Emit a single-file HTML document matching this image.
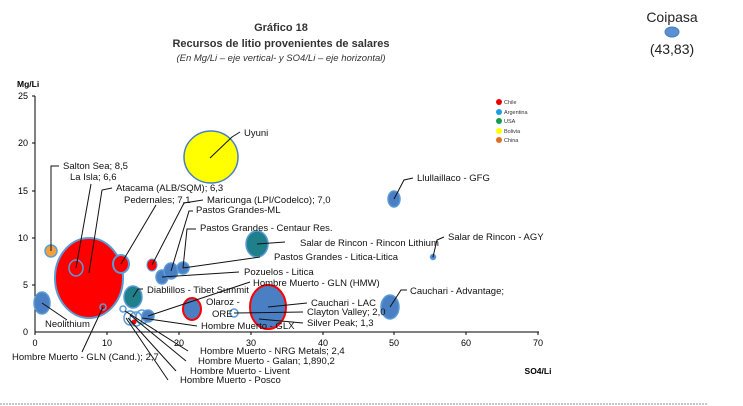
<!DOCTYPE html>
<html><head><meta charset="utf-8"><style>
body{margin:0;background:#fff;}
svg{display:block;font-family:"Liberation Sans",Arial,sans-serif;}
.l{font-size:9.5px;fill:#111;}
.ln{stroke:#111;stroke-width:1;fill:none;}
.b{fill:#4a7fc4;stroke:#5b9bd5;stroke-width:1.5;}
.r{fill:none;stroke:#5b9bd5;stroke-width:1.5;}
.t{fill:#1f7f8a;stroke:#5b9bd5;stroke-width:1.5;}
</style></head><body>
<svg width="743" height="406" viewBox="0 0 743 406">
<text x="281" y="31" text-anchor="middle" font-size="11" font-weight="bold" fill="#333">Gráfico 18</text>
<text x="281" y="47" text-anchor="middle" font-size="11" font-weight="bold" fill="#333">Recursos de litio provenientes de salares</text>
<text x="281" y="61" text-anchor="middle" font-size="9.5" font-style="italic" fill="#333">(En Mg/Li – eje vertical- y SO4/Li – eje horizontal)</text>
<text x="672" y="22" text-anchor="middle" font-size="14" fill="#222">Coipasa</text>
<ellipse cx="672" cy="32" rx="7" ry="5" fill="#5b8fd0" stroke="#4a7fc4"/>
<text x="672" y="54" text-anchor="middle" font-size="14" fill="#222">(43,83)</text>
<text x="17" y="87" font-size="8.5" font-weight="bold">Mg/Li</text>
<g font-size="9" text-anchor="end">
<text x="28" y="99">25</text><text x="28" y="146">20</text><text x="28" y="194">15</text>
<text x="28" y="241">10</text><text x="28" y="288">5</text><text x="28" y="335">0</text>
</g>
<line x1="35" y1="96" x2="35" y2="332" stroke="#000"/>
<line x1="35" y1="332" x2="539" y2="332" stroke="#000"/>
<g stroke="#000">
<line x1="32" y1="96" x2="35" y2="96"/><line x1="32" y1="143" x2="35" y2="143"/><line x1="32" y1="191" x2="35" y2="191"/><line x1="32" y1="238" x2="35" y2="238"/><line x1="32" y1="285" x2="35" y2="285"/>
<line x1="35" y1="332" x2="35" y2="335"/><line x1="107" y1="332" x2="107" y2="335"/><line x1="179" y1="332" x2="179" y2="335"/><line x1="251" y1="332" x2="251" y2="335"/><line x1="323" y1="332" x2="323" y2="335"/><line x1="394" y1="332" x2="394" y2="335"/><line x1="466" y1="332" x2="466" y2="335"/><line x1="538" y1="332" x2="538" y2="335"/>
</g>
<g font-size="9" text-anchor="middle">
<text x="35" y="346">0</text><text x="107" y="346">10</text><text x="179" y="346">20</text><text x="251" y="346">30</text><text x="323" y="346">40</text><text x="394" y="346">50</text><text x="466" y="346">60</text><text x="538" y="346">70</text>
</g>
<text x="538" y="374" font-size="8.5" font-weight="bold" text-anchor="middle">SO4/Li</text>
<!-- legend -->
<g font-size="5.5" fill="#333">
<circle cx="499" cy="102" r="3" fill="#e00"/><text x="504" y="104">Chile</text>
<circle cx="499" cy="112" r="3" fill="#1aa0e0"/><text x="504" y="114">Argentina</text>
<circle cx="499" cy="121" r="3" fill="#1a9a50"/><text x="504" y="123">USA</text>
<circle cx="499" cy="131" r="3" fill="#ff0"/><text x="504" y="133">Bolivia</text>
<circle cx="499" cy="140" r="3" fill="#e07020"/><text x="504" y="142">China</text>
</g>
<!-- bubbles -->
<ellipse cx="211" cy="157" rx="27" ry="26" fill="#ffff00" stroke="#4a7fc4" stroke-width="1.5"/>
<ellipse cx="89" cy="278" rx="34" ry="40" fill="#f00" stroke="#5b9bd5" stroke-width="2"/>
<ellipse cx="76" cy="268" rx="7" ry="8" class="r" stroke-width="2"/>
<ellipse cx="121" cy="264" rx="8" ry="9" fill="#f00" stroke="#5b9bd5" stroke-width="2"/>
<ellipse cx="51" cy="251" rx="6" ry="6" fill="#f0a040" stroke="#5b9bd5" stroke-width="1.5"/>
<ellipse cx="42" cy="303" rx="8" ry="11" class="b"/>
<ellipse cx="152" cy="265" rx="5" ry="6" fill="#f00" stroke="#5b9bd5"/>
<ellipse cx="162" cy="277" rx="6" ry="7" class="b"/>
<ellipse cx="171" cy="271" rx="7" ry="8" class="b"/>
<ellipse cx="183" cy="268" rx="6" ry="6" class="b"/>
<ellipse cx="133" cy="297" rx="9" ry="11" class="t"/>
<ellipse cx="192" cy="309" rx="9" ry="11" fill="#4a7fc4" stroke="#f00" stroke-width="2"/>
<ellipse cx="268" cy="307" rx="18" ry="22" fill="#4a7fc4" stroke="#f00" stroke-width="2"/>
<circle cx="234" cy="313" r="4" class="r"/>
<ellipse cx="257" cy="244" rx="11" ry="13" class="t"/>
<ellipse cx="394" cy="199" rx="6" ry="8" class="b"/>
<circle cx="433" cy="257" r="2.5" class="b"/>
<ellipse cx="390" cy="307" rx="9" ry="12" class="b"/>
<circle cx="103" cy="307" r="3" class="r"/>
<circle cx="123" cy="309" r="3" class="r"/>
<ellipse cx="130" cy="318" rx="6" ry="7" class="r"/>
<ellipse cx="136" cy="319" rx="6" ry="7" class="r"/>
<ellipse cx="142" cy="317" rx="6" ry="7" class="r"/>
<ellipse cx="148" cy="316" rx="6" ry="6" class="b"/>
<circle cx="134" cy="322" r="2.5" fill="#f00"/>
<!-- labels -->
<g class="l">
<text x="244" y="136">Uyuni</text>
<text x="63" y="169">Salton Sea; 8,5</text>
<text x="70" y="180">La Isla; 6,6</text>
<text x="116" y="191">Atacama (ALB/SQM); 6,3</text>
<text x="124" y="203">Pedernales; 7,1</text>
<text x="207" y="203">Maricunga (LPI/Codelco); 7,0</text>
<text x="196" y="213">Pastos Grandes-ML</text>
<text x="200" y="231">Pastos Grandes - Centaur Res.</text>
<text x="300" y="246">Salar de Rincon - Rincon Lithium</text>
<text x="448" y="240">Salar de Rincon - AGY</text>
<text x="417" y="181">Llullaillaco - GFG</text>
<text x="274" y="260">Pastos Grandes  - Litica-Litica</text>
<text x="244" y="275">Pozuelos  - Litica</text>
<text x="253" y="286">Hombre Muerto - GLN (HMW)</text>
<text x="147" y="293">Diablillos - Tibet Summit</text>
<text x="410" y="294">Cauchari - Advantage;</text>
<text x="206" y="305">Olaroz -</text>
<text x="212" y="317">ORE</text>
<text x="311" y="306">Cauchari - LAC</text>
<text x="307" y="315">Clayton Valley; 2,0</text>
<text x="307" y="326">Silver Peak; 1,3</text>
<text x="201" y="329">Hombre Muerto - GLX</text>
<text x="45" y="327">Neolithium</text>
<text x="12" y="360">Hombre Muerto - GLN (Cand.); 2,7</text>
<text x="200" y="354">Hombre Muerto - NRG Metals; 2,4</text>
<text x="198" y="364">Hombre Muerto - Galan; 1,890,2</text>
<text x="190" y="374">Hombre Muerto - Livent</text>
<text x="180" y="383">Hombre Muerto - Posco</text>
</g>
<g class="ln">
<path d="M210 158 L232 137 L240 132"/>
<path d="M51 251 L51 166 L59 166"/>
<path d="M76 268 L91 184"/>
<path d="M89 273 L102 190 L112 188"/>
<path d="M121 264 L156 205"/>
<path d="M152 265 L184 203 L203 200"/>
<path d="M171 271 L189 211 L193 211"/>
<path d="M183 268 L187 229 L196 229"/>
<path d="M257 244 L285 242"/>
<path d="M433 257 L437 240 L444 237"/>
<path d="M394 199 L404 180 L413 178"/>
<path d="M183 268 L260 257"/>
<path d="M162 277 L239 272"/>
<path d="M148 316 L250 282"/>
<path d="M133 297 L138 289 L143 289"/>
<path d="M390 307 L401 290 L407 290"/>
<path d="M268 307 L307 303"/>
<path d="M234 313 L303 312"/>
<path d="M259 319 L303 323"/>
<path d="M142 318 L197 326"/>
<path d="M42 303 L67 320"/>
<path d="M103 307 L82 352"/>
<path d="M125 311 L188 351"/>
<path d="M130 315 L186 361"/>
<path d="M128 318 L176 371"/>
<path d="M126 318 L168 380"/>
</g>
<line x1="0" y1="404" x2="707" y2="404" stroke="#889" stroke-dasharray="2,1"/>
</svg>
</body></html>
